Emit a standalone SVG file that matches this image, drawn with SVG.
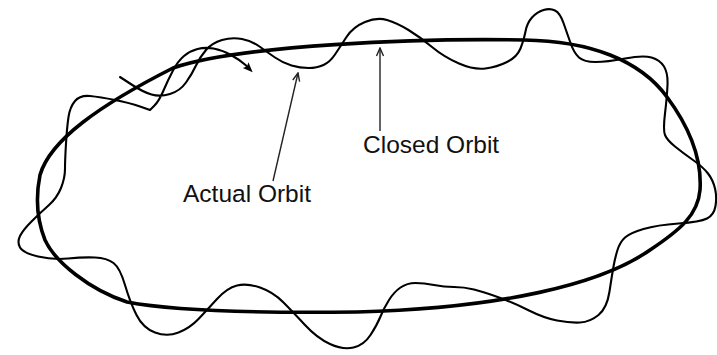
<svg xmlns="http://www.w3.org/2000/svg" width="717" height="355" viewBox="0 0 717 355">
<style>
.closed{fill:none;stroke:#000;stroke-width:3.6;stroke-linejoin:round}
.actual{fill:none;stroke:#000;stroke-width:2.1;stroke-linejoin:round;stroke-linecap:round}
.ptr{fill:none;stroke:#222;stroke-width:1.4}
.lbl{font-family:"Liberation Sans",Arial,sans-serif;font-size:24.5px;fill:#111}
</style>
<defs>
<marker id="open" viewBox="0 0 10 10" refX="9" refY="5" markerWidth="10" markerHeight="10" markerUnits="userSpaceOnUse" orient="auto">
<path d="M1,1.5 L9,5 L1,8.5" fill="none" stroke="#222" stroke-width="1.4"/>
</marker>
<marker id="solid" viewBox="0 0 10 10" refX="2" refY="5" markerWidth="11" markerHeight="10" markerUnits="userSpaceOnUse" orient="auto">
<path d="M0,1 L10,5 L0,9 L2,5 Z" fill="#000"/>
</marker>
</defs>
<g id="closed-orbit">
<path class="closed" d="M40,175 C50,140 100,105 173,68 C240,45 420,38 524,40 C590,41 640,60 667,97 C690,128 702,160 700,190 C698,215 680,230 650,250 C600,285 500,308 357,312 C280,313 180,312 127,302 C90,290 55,262 45,240 C37,220 35,200 40,175 Z"/>
</g>
<g id="actual-orbit">
<path class="actual" marker-end="url(#solid)" d="M120,77 L131.5,84.5 Q143,92 151.5,94.5 Q160,97 170,94 Q180,91 186,82.5 Q192,74 196,65.5 Q200,57 206,50 Q212,43 222,40 Q232,37 242,39 Q252,41 259.5,46.5 Q267,52 275,57.5 Q283,63 291.5,65.5 Q300,68 308.5,68 Q317,68 323.5,65 Q330,62 335,54.5 Q340,47 346.5,37 Q353,27 365,22 Q377,17 387,20 Q397,23 408.5,30 Q420,37 432,47 Q444,57 459,63.5 Q474,70 485.5,68.5 Q497,67 507,62 Q517,57 520.5,48.5 Q524,40 525.5,31.5 Q527,23 532,17.5 Q537,12 543.5,10 Q550,8 555,10.5 Q560,13 563.5,23 Q567,33 570.5,43 Q574,53 579,57.5 Q584,62 595.5,62 Q607,62 625,58.5 Q643,55 651.5,57.5 Q660,60 664,66.5 Q668,73 667.5,85 Q667,97 665,113.5 Q663,130 665,135 Q667,140 675,146.5 Q683,153 693,160 Q703,167 708,173.5 Q713,180 715,188.5 Q717,197 715.5,206 Q714,215 707,218.5 Q700,222 678.5,223.5 Q657,225 643.5,229 Q630,233 625,237.5 Q620,242 617.5,250 Q615,258 613.5,266.5 Q612,275 609.5,291.5 Q607,308 598.5,315 Q590,322 580,322.5 Q570,323 557,320.5 Q544,318 529,310.5 Q514,303 499,297.5 Q484,292 474,289.5 Q464,287 454,287 Q444,287 434,285 Q424,283 415.5,283 Q407,283 400.5,287.5 Q394,292 389,300 Q384,308 380.5,316.5 Q377,325 370.5,335 Q364,345 353.5,347.5 Q343,350 330,344 Q317,338 305,325 Q293,312 283,302 Q273,292 260,287.5 Q247,283 237,285.5 Q227,288 217,299 Q207,310 198.5,319 Q190,328 178.5,332.5 Q167,337 155,332.5 Q143,328 136.5,315 Q130,302 125,285 Q120,268 113.5,263 Q107,258 95,257.5 Q83,257 68,258.5 Q53,260 38,256.5 Q23,253 20,247.5 Q17,242 20,236 Q23,230 31.5,221.5 Q40,213 48.5,205.5 Q57,198 61,188 Q65,178 65,169 Q65,160 66,143.5 Q67,127 68.5,117 Q70,107 75,101 Q80,95 90,96 Q100,97 115,100 Q130,103 140,106.5 L150,110 L154.5,105.5 Q159,101 163.5,90.5 Q168,80 173,70.5 Q178,61 184,56 Q190,51 197.5,49 Q205,47 213.5,48.5 Q222,50 231,55 Q240,60 245.5,65 L247,66.5"/>
</g>
<g id="label-actual">
<text class="lbl" x="183" y="202">Actual Orbit</text>
</g>
<g id="label-closed">
<text class="lbl" x="363" y="153">Closed Orbit</text>
</g>
<g id="connectors">
<line class="ptr" x1="273" y1="181" x2="298" y2="73" marker-end="url(#open)"/>
<line class="ptr" x1="380" y1="131" x2="380" y2="48" marker-end="url(#open)"/>
</g>
</svg>
